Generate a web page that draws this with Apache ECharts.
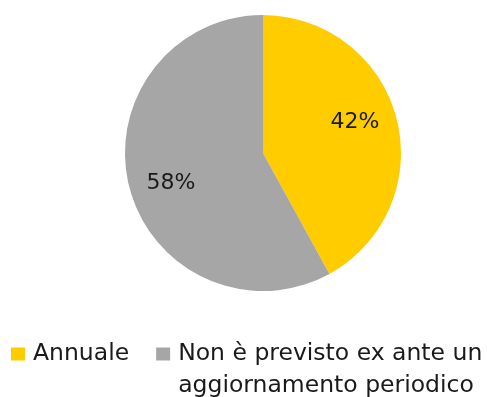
<!DOCTYPE html>
<html>
<head>
<meta charset="utf-8">
<script src="https://cdn.jsdelivr.net/npm/echarts@6/dist/echarts.min.js"></script>
<style>
  html, body { margin: 0; padding: 0; background: #ffffff; }
  #chart { width: 487px; height: 397px; }
</style>
</head>
<body>
<div id="chart"></div>
<script>
// Categories and shares (percent)
const categories = ['Annuale', 'Non è previsto ex ante un aggiornamento periodico'];
const shares = [42, 58];
const colors = ['#FFCC00', '#A6A6A6'];
// Legend text as laid out; the blank first line keeps the wrapped
// entry's first row level with its swatch
const legendLabels = ['Annuale', ' \nNon è previsto ex ante un\naggiornamento periodico'];

const FONT = 'DejaVu Sans';

const pieData = categories.map((name, i) => ({
  name: name,
  value: shares[i],
  itemStyle: { color: colors[i] }
}));

const chart = echarts.init(document.getElementById('chart'), null, { renderer: 'canvas' });

chart.setOption({
  animation: false,
  legend: {
    left: 11,
    top: 306,
    width: 480,
    padding: 0,
    orient: 'horizontal',
    itemWidth: 14,
    itemHeight: 13,
    itemGap: 27,
    icon: 'rect',
    selectedMode: false,
    formatter: name => legendLabels[categories.indexOf(name)],
    textStyle: {
      fontFamily: FONT,
      fontSize: 23.5,
      color: '#1a1a1a',
      lineHeight: 32,
      padding: [0, 0, 0, 3]
    },
    data: categories
  },
  series: [
    {
      // Filled slices
      type: 'pie',
      center: [263, 153],
      radius: [0, 138],
      startAngle: 90,
      clockwise: true,
      silent: true,
      label: { show: false },
      labelLine: { show: false },
      itemStyle: { borderWidth: 0 },
      data: pieData
    },
    {
      // Percentage labels on a transparent ring so they sit further out
      type: 'pie',
      center: [263, 153],
      radius: [52, 136],
      startAngle: 94,
      clockwise: true,
      silent: true,
      itemStyle: { color: 'rgba(0,0,0,0)', borderWidth: 0 },
      label: {
        show: true,
        position: 'inside',
        formatter: p => p.value + '%',
        fontFamily: FONT,
        fontSize: 22,
        color: '#1a1a1a'
      },
      labelLine: { show: false },
      data: categories.map((name, i) => ({ name: name, value: shares[i] }))
    }
  ]
});
</script>
</body>
</html>
